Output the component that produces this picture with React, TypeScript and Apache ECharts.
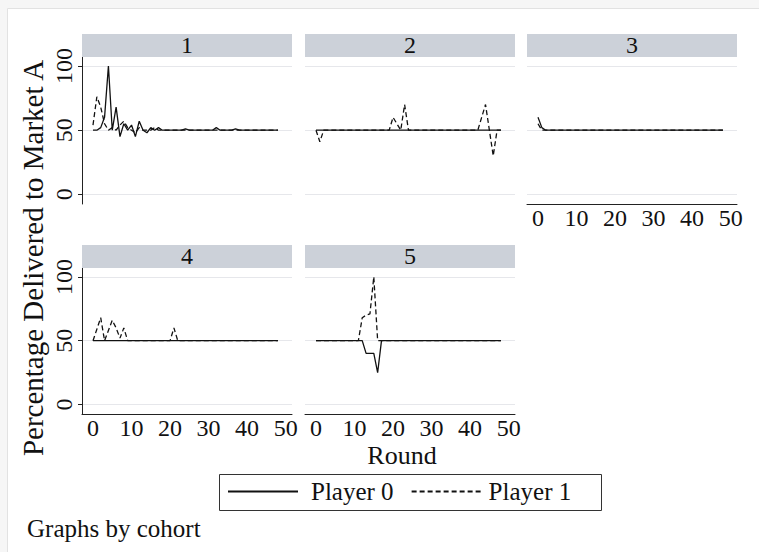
import React, { useEffect, useRef } from 'react';
import * as echarts from 'echarts';

// ---------- data ----------
const rounds = [
  0, 1, 2, 3, 4, 5, 6, 7, 8, 9,
  10, 11, 12, 13, 14, 15, 16, 17, 18, 19,
  20, 21, 22, 23, 24, 25, 26, 27, 28, 29,
  30, 31, 32, 33, 34, 35, 36, 37, 38, 39,
  40, 41, 42, 43, 44, 45, 46, 47, 48,
];

const cohorts = ['1', '2', '3', '4', '5'];
const legendNames = ['Player 0', 'Player 1'];
const yTicks = [0, 50, 100];
const xTicks = [0, 10, 20, 30, 40, 50];

const cohort1Player0 = [
  50, 50, 52, 60, 100, 50, 68, 45, 55, 50,
  54, 45, 57, 50, 48, 52, 50, 52, 50, 50,
  50, 50, 50, 50, 51, 50, 50, 50, 50, 50,
  50, 50, 52, 50, 50, 50, 50, 51, 50, 50,
  50, 50, 50, 50, 50, 50, 50, 50, 50,
];
const cohort1Player1 = [
  54, 76, 68, 55, 50, 52, 50, 54, 57, 52,
  50, 48, 52, 50, 50, 50, 52, 50, 50, 50,
  50, 50, 50, 50, 50, 50, 50, 50, 50, 50,
  50, 50, 50, 50, 50, 50, 50, 50, 50, 50,
  50, 50, 50, 50, 50, 50, 50, 50, 50,
];
const cohort2Player0 = [
  50, 50, 50, 50, 50, 50, 50, 50, 50, 50,
  50, 50, 50, 50, 50, 50, 50, 50, 50, 50,
  50, 50, 50, 50, 50, 50, 50, 50, 50, 50,
  50, 50, 50, 50, 50, 50, 50, 50, 50, 50,
  50, 50, 50, 50, 50, 50, 50, 50, 50,
];
const cohort2Player1 = [
  50, 41, 50, 50, 50, 50, 50, 50, 50, 50,
  50, 50, 50, 50, 50, 50, 50, 50, 50, 50,
  60, 55, 50, 70, 50, 50, 50, 50, 50, 50,
  50, 50, 50, 50, 50, 50, 50, 50, 50, 50,
  50, 50, 50, 60, 70, 50, 30, 50, 50,
];
const cohort3Player0 = [
  60, 52, 50, 50, 50, 50, 50, 50, 50, 50,
  50, 50, 50, 50, 50, 50, 50, 50, 50, 50,
  50, 50, 50, 50, 50, 50, 50, 50, 50, 50,
  50, 50, 50, 50, 50, 50, 50, 50, 50, 50,
  50, 50, 50, 50, 50, 50, 50, 50, 50,
];
const cohort3Player1 = [
  55, 50, 50, 50, 50, 50, 50, 50, 50, 50,
  50, 50, 50, 50, 50, 50, 50, 50, 50, 50,
  50, 50, 50, 50, 50, 50, 50, 50, 50, 50,
  50, 50, 50, 50, 50, 50, 50, 50, 50, 50,
  50, 50, 50, 50, 50, 50, 50, 50, 50,
];
const cohort4Player0 = [
  50, 50, 50, 50, 50, 50, 50, 50, 50, 50,
  50, 50, 50, 50, 50, 50, 50, 50, 50, 50,
  50, 50, 50, 50, 50, 50, 50, 50, 50, 50,
  50, 50, 50, 50, 50, 50, 50, 50, 50, 50,
  50, 50, 50, 50, 50, 50, 50, 50, 50,
];
const cohort4Player1 = [
  50, 59, 68, 50, 58, 66, 60, 52, 60, 50,
  50, 50, 50, 50, 50, 50, 50, 50, 50, 50,
  50, 60, 50, 50, 50, 50, 50, 50, 50, 50,
  50, 50, 50, 50, 50, 50, 50, 50, 50, 50,
  50, 50, 50, 50, 50, 50, 50, 50, 50,
];
const cohort5Player0 = [
  50, 50, 50, 50, 50, 50, 50, 50, 50, 50,
  50, 50, 50, 40, 40, 40, 25, 50, 50, 50,
  50, 50, 50, 50, 50, 50, 50, 50, 50, 50,
  50, 50, 50, 50, 50, 50, 50, 50, 50, 50,
  50, 50, 50, 50, 50, 50, 50, 50, 50,
];
const cohort5Player1 = [
  50, 50, 50, 50, 50, 50, 50, 50, 50, 50,
  50, 50, 68, 70, 71, 100, 50, 50, 50, 50,
  50, 50, 50, 50, 50, 50, 50, 50, 50, 50,
  50, 50, 50, 50, 50, 50, 50, 50, 50, 50,
  50, 50, 50, 50, 50, 50, 50, 50, 50,
];

const player0Data = [cohort1Player0, cohort2Player0, cohort3Player0, cohort4Player0, cohort5Player0];
const player1Data = [cohort1Player1, cohort2Player1, cohort3Player1, cohort4Player1, cohort5Player1];

// ---------- layout ----------
const FONT = '"Liberation Serif", "Times New Roman", serif';
const INK = '#111';
const panels = [
  { left: 82, top: 57, width: 210, height: 147, yAxis: true, xAxis: false },
  { left: 305, top: 57, width: 210, height: 147, yAxis: false, xAxis: false },
  { left: 527, top: 57, width: 210, height: 147, yAxis: false, xAxis: true },
  { left: 82, top: 268, width: 210, height: 146, yAxis: true, xAxis: true },
  { left: 305, top: 268, width: 210, height: 146, yAxis: false, xAxis: true },
];
const STRIP_H = 23;

export default function App() {
  const ref = useRef<HTMLDivElement>(null);

  useEffect(() => {
    if (!ref.current) return;
    const chart = echarts.init(ref.current, undefined, { renderer: 'svg' });

    const grid = panels.map((p) => ({ left: p.left, top: p.top, width: p.width, height: p.height, containLabel: false }));

    const xAxis = panels.map((p, i) => ({
      gridIndex: i,
      type: 'value',
      min: -2.855,
      max: 51.65,
      axisLine: { show: p.xAxis, onZero: false, lineStyle: { color: '#222', width: 1 } },
      axisTick: { show: false, customValues: xTicks },
      axisLabel: { show: p.xAxis, customValues: xTicks, fontSize: 24, fontFamily: FONT, color: INK, margin: 2 },
      splitLine: { show: false },
    }));

    const yAxis = panels.map((p, i) => ({
      gridIndex: i,
      type: 'value',
      min: -7.5,
      max: 107,
      axisLine: { show: p.yAxis, onZero: false, lineStyle: { color: '#222', width: 1 } },
      axisTick: { show: p.yAxis, customValues: yTicks, length: 4, lineStyle: { color: '#222' } },
      axisLabel: { show: p.yAxis, customValues: yTicks, rotate: 90, fontSize: 24, fontFamily: FONT, color: INK, margin: 6 },
      splitLine: { show: true, lineStyle: { color: '#e6e7eb', width: 1 } },
    }));

    const series: any[] = [];
    panels.forEach((_, i) => {
      series.push({
        name: legendNames[0],
        type: 'line',
        xAxisIndex: i,
        yAxisIndex: i,
        data: rounds.map((r, j) => [r, player0Data[i][j]]),
        symbol: 'none',
        lineStyle: { color: '#111', width: 1.3, type: 'solid' },
        itemStyle: { color: '#111' },
        z: 3,
      });
      series.push({
        name: legendNames[1],
        type: 'line',
        xAxisIndex: i,
        yAxisIndex: i,
        data: rounds.map((r, j) => [r, player1Data[i][j]]),
        symbol: 'none',
        lineStyle: { color: '#111', width: 1.3, type: [5, 3] },
        itemStyle: { color: '#111' },
        z: 3,
      });
    });

    const graphic: any[] = [
      {
        type: 'rect',
        z: -10,
        shape: { x: 7.5, y: 8.5, width: 800, height: 600 },
        style: { fill: '#ffffff', stroke: '#e2e2e2', lineWidth: 1 },
        silent: true,
      },
    ];
    panels.forEach((p, i) => {
      graphic.push({
        type: 'rect',
        z: 1,
        shape: { x: p.left, y: p.top - STRIP_H, width: p.width, height: STRIP_H },
        style: { fill: '#ccd1d9' },
        silent: true,
      });
      graphic.push({
        type: 'text',
        z: 2,
        x: p.left + p.width / 2,
        y: p.top - STRIP_H / 2 - 1,
        style: { text: cohorts[i], fontSize: 24, fontFamily: FONT, fill: INK, align: 'center', verticalAlign: 'middle' },
        silent: true,
      });
    });
    graphic.push(
      {
        type: 'text',
        z: 2,
        x: 33,
        y: 258,
        rotation: Math.PI / 2,
        style: { text: 'Percentage Delivered to Market A', fontSize: 29, fontFamily: FONT, fill: INK, align: 'center', verticalAlign: 'middle' },
        silent: true,
      },
      {
        type: 'text',
        z: 2,
        x: 402,
        y: 455,
        style: { text: 'Round', fontSize: 26, fontFamily: FONT, fill: INK, align: 'center', verticalAlign: 'middle' },
        silent: true,
      },
      {
        type: 'text',
        z: 2,
        x: 27,
        y: 528,
        style: { text: 'Graphs by cohort', fontSize: 25, fontFamily: FONT, fill: INK, align: 'left', verticalAlign: 'middle' },
        silent: true,
      },
      {
        type: 'rect',
        z: 1,
        shape: { x: 219.5, y: 474.5, width: 382, height: 36 },
        style: { fill: '#ffffff', stroke: '#333', lineWidth: 1 },
        silent: true,
      }
    );

    chart.setOption({
      animation: false,
      backgroundColor: '#f6f6f6',
      textStyle: { fontFamily: FONT },
      grid,
      xAxis,
      yAxis,
      series,
      legend: {
        data: [
          { name: legendNames[0], textStyle: { padding: [0, 0, 0, 8] } },
          { name: legendNames[1], textStyle: { padding: [0, 0, 0, 2] } },
        ],
        left: 227,
        top: 479,
        padding: 0,
        itemWidth: 70,
        itemHeight: 26,
        itemGap: 17,
        selectedMode: false,
        z: 5,
        itemStyle: { color: 'rgba(0,0,0,0)', borderColor: 'rgba(0,0,0,0)', borderWidth: 0 },
        textStyle: { fontSize: 25, fontFamily: FONT, color: INK },
      },
      graphic,
    });

    return () => chart.dispose();
  }, []);

  return <div ref={ref} style={{ position: 'absolute', left: 0, top: 0, width: 759, height: 552 }} />;
}
